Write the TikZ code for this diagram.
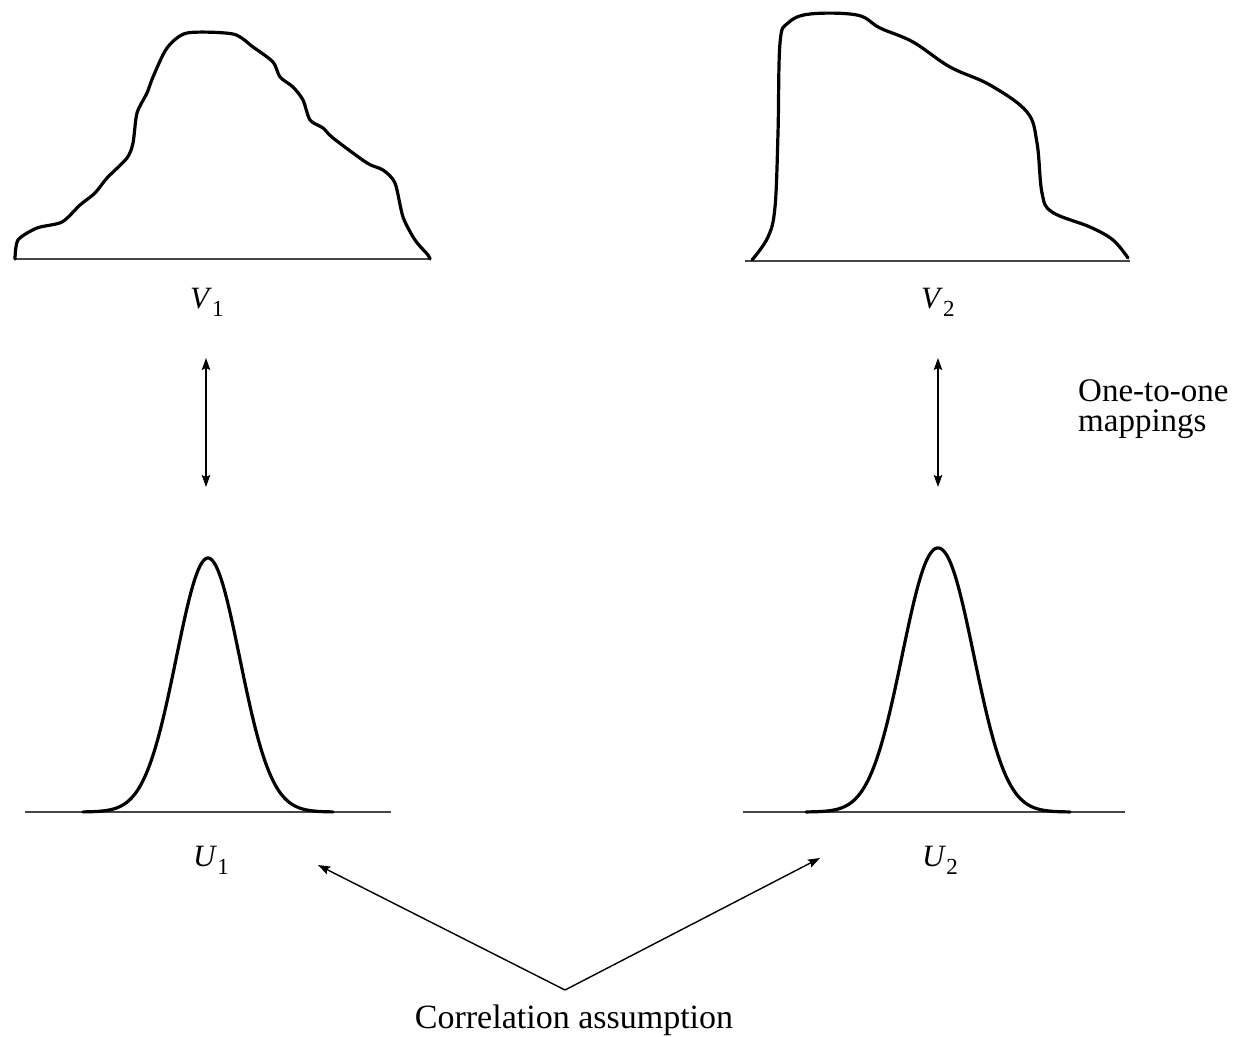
\documentclass[tikz,border=0pt]{standalone}
\usepackage{fontspec}
\setmainfont{Liberation Serif}
\usetikzlibrary{arrows.meta}
\newcommand{\varlbl}[2]{\textit{#1}\raisebox{-0.27em}{\fontsize{23}{23}\selectfont #2}}
\begin{document}
\begin{tikzpicture}[x=1pt,y=-1pt,
  curve/.style={line width=3.2pt, line join=round, line cap=round},
  baseln/.style={line width=2pt, draw=black!72},
  tip/.tip={Stealth[length=12pt,width=8.5pt,inset=2pt]},
  conn/.style={line width=1.4pt, -tip},
  biconn/.style={line width=1.4pt, tip-tip},
  lbl/.style={font=\fontsize{31}{31}\selectfont, inner sep=0pt, anchor=base west},
  txt/.style={font=\fontsize{33}{33}\selectfont, inner sep=0pt, anchor=base west}]
\fill[white] (0,0) rectangle (1241,1036);
\path[use as bounding box] (0,0) rectangle (1241,1036);

% ---- top-left distribution V1
\draw[baseln] (14,259) -- (430,259);
\draw[curve] plot[smooth, tension=0.45] coordinates {
 (15,259) (18,240) (37,228) (62,222) (80,205) (95,193) (107,178) (127,158)
 (133,143) (137,113) (147,93) (153,77) (167,48) (187,33) (233,34) (253,47)
 (273,62) (280,77) (293,87) (303,100) (310,120) (323,128) (333,138) (367,163)
 (383,170) (395,183) (403,217) (415,240) (428,255) (430,259)};

% ---- top-right distribution V2
\draw[baseln] (745,261) -- (1130,261);
\draw[curve] plot[smooth, tension=0.6] coordinates {
 (752,260) (768,237) (775,207) (778,133) (780,43) (788,23) (810,14) (857,15)
 (880,28) (913,42) (950,67) (990,85) (1027,112) (1037,143) (1042,193)
 (1052,212) (1090,227) (1113,240) (1128,258)};

% ---- bottom-left distribution U1
\draw[baseln] (25,812) -- (391,812);
\draw[curve] plot[domain=83:333, samples=140]
  (\x, {812-254*exp(-pow(abs(\x-208)/45+0.002,2))});

% ---- bottom-right distribution U2
\draw[baseln] (743,812) -- (1125,812);
\draw[curve] plot[domain=806:1070, samples=140]
  (\x, {812-264*exp(-pow(abs(\x-938)/49+0.002,2.1))});

% ---- labels
\node[lbl] (V1) at (190,308) {\varlbl{V}{1}};
\node[lbl] (V2) at (921,308) {\varlbl{V}{2}};
\node[lbl] (U1) at (193,866) {\varlbl{U}{1}};
\node[lbl] (U2) at (922,866) {\varlbl{U}{2}};
\node[txt] (map1) at (1078,401) {One-to-one};
\node[txt] (map2) at (1078,431) {mappings};
\node[font=\fontsize{34}{34}\selectfont, inner sep=0pt, anchor=base] (corr) at (574,1028) {Correlation assumption};

% ---- mapping arrows
\coordinate (m1a) at (206,358);
\coordinate (m1b) at (206,487);
\coordinate (m2a) at (938,358);
\coordinate (m2b) at (938,487);
\draw[biconn] (m1a) -- (m1b);
\draw[biconn] (m2a) -- (m2b);

% ---- correlation arrows
\coordinate (apex) at (565,990);
\coordinate (cl) at (318,865);
\coordinate (cr) at (820,858);
\draw[conn] (apex) -- (cl);
\draw[conn] (apex) -- (cr);
\end{tikzpicture}
\end{document}
